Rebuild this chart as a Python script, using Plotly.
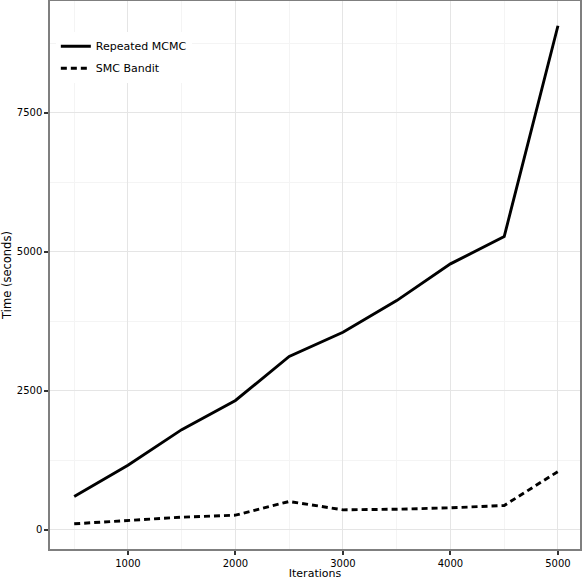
import plotly.graph_objects as go

# values
iterations = [500, 1000, 1500, 2000, 2500, 3000, 3500, 4000, 4500, 5000]
repeated_mcmc = [598, 1160, 1800, 2325, 3115, 3550, 4120, 4780, 5270, 9060]
smc_bandit = [108, 167, 227, 263, 509, 359, 370, 395, 437, 1048]

x_ticks = [1000, 2000, 3000, 4000, 5000]
y_ticks = [0, 2500, 5000, 7500]

FONT = "DejaVu Sans"

fig = go.Figure()
fig.add_trace(go.Scatter(x=iterations, y=repeated_mcmc, mode="lines",
                         name="Repeated MCMC", legendgroup="mcmc",
                         line=dict(color="black", width=2.9)))
fig.add_trace(go.Scatter(x=iterations, y=smc_bandit, mode="lines",
                         name="SMC Bandit", legendgroup="smc",
                         line=dict(color="black", width=2.9, dash="6px,4px")))

axis_common = dict(
    showline=True, mirror=True, linecolor="#7f7f7f", linewidth=1.5,
    showgrid=True, gridcolor="#e5e5e5", gridwidth=1,
    ticks="outside", ticklen=4, tickwidth=1.5, tickcolor="#333333",
    tickfont=dict(family=FONT, size=10, color="black"),
    zeroline=False, automargin=False,
)

fig.update_xaxes(axis_common, range=[275, 5205], tickvals=x_ticks,
                 minor=dict(dtick=500, tick0=0, showgrid=True,
                            gridcolor="#f4f4f4", ticklen=0),
                 title=dict(text="Iterations", standoff=2,
                            font=dict(family=FONT, size=11, color="black")))
fig.update_yaxes(axis_common, range=[-345, 9505], tickvals=y_ticks,
                 minor=dict(dtick=1250, tick0=0, showgrid=True,
                            gridcolor="#f4f4f4", ticklen=0),
                 title=dict(text="Time (seconds)", standoff=4,
                            font=dict(family=FONT, size=11.5, color="black")))

fig.update_layout(
    width=582, height=580,
    margin=dict(l=50, r=2, t=1, b=31),
    plot_bgcolor="white", paper_bgcolor="white",
    font=dict(family=FONT, color="black"),
    legend=dict(x=0.011, y=0.944, xanchor="left", yanchor="top",
                bgcolor="white", borderwidth=0,
                font=dict(family=FONT, size=11, color="black"),
                tracegroupgap=3),
)

# the page body has a default 8px margin; remove it so the figure sits at 0,0
fig.write_html("out.html", config={"displayModeBar": False},
               post_script="document.body.style.margin='0';")
